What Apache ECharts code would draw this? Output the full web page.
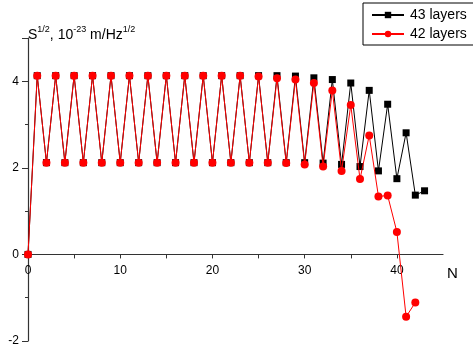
<!DOCTYPE html>
<html>
<head>
<meta charset="utf-8">
<script src="https://cdn.jsdelivr.net/npm/echarts@6/dist/echarts.min.js"></script>
<style>
  html, body { margin: 0; padding: 0; background: #fff; }
  #chart { width: 473px; height: 351px; }
</style>
</head>
<body>
<div id="chart"></div>
<script>
// S^1/2 per layer index N
const layers43 = [
  0, 4.13, 2.12, 4.13, 2.12, 4.13, 2.12, 4.13, 2.12, 4.13,
  2.12, 4.13, 2.12, 4.13, 2.12, 4.13, 2.12, 4.13, 2.12, 4.13,
  2.12, 4.13, 2.12, 4.13, 2.12, 4.13, 2.12, 4.13, 2.12, 4.12,
  2.12, 4.08, 2.11, 4.04, 2.08, 3.96, 2.03, 3.79, 1.93, 3.47,
  1.75, 2.81, 1.37, 1.47
]
const layers42 = [
  0, 4.13, 2.12, 4.13, 2.12, 4.13, 2.12, 4.13, 2.12, 4.13,
  2.12, 4.13, 2.12, 4.13, 2.12, 4.13, 2.12, 4.13, 2.12, 4.13,
  2.12, 4.13, 2.12, 4.13, 2.12, 4.11, 2.12, 4.07, 2.11, 4.04,
  2.08, 3.96, 2.03, 3.79, 1.93, 3.45, 1.74, 2.75, 1.34, 1.36,
  0.52, -1.44, -1.11
]
const seriesNames = ['43 layers', '42 layers']
const xLabels = [0, 10, 20, 30, 40]
const yLabels = [-2, 0, 2, 4]
const yMin = -2
const yMax = 5

const font = 'Liberation Sans, Arial, sans-serif'
const chartHeight = 351
const gridTop = 38
const gridBottom = 10
const chart = echarts.init(document.getElementById('chart'), null, { renderer: 'canvas' })

const toPairs = (values) => values.map((v, n) => [n, v])
// onZero doesn't kick in here, so lift the x axis up to y = 0 by hand
const plotHeight = chartHeight - gridTop - gridBottom
const zeroLift = -plotHeight * (0 - yMin) / (yMax - yMin)

chart.setOption({
  animation: false,
  backgroundColor: '#fff',
  textStyle: { fontFamily: font },
  grid: { left: 28, right: 30, top: gridTop, bottom: gridBottom },
  title: {
    left: 23,
    top: 20,
    text: '{a|S}{s|1/2}{a|, 10}{s|-23}{a| m/Hz}{s|1/2}',
    textStyle: {
      fontWeight: 'normal',
      rich: {
        a: { fontFamily: font, fontSize: 14, fontWeight: 'normal', color: '#000', verticalAlign: 'bottom', lineHeight: 17 },
        s: { fontFamily: font, fontSize: 9, fontWeight: 'normal', color: '#000', verticalAlign: 'top', lineHeight: 17 }
      }
    }
  },
  graphic: [
    {
      type: 'text',
      left: 447,
      top: 266,
      style: { text: 'N', font: '15px ' + font, fill: '#000' }
    }
  ],
  legend: {
    left: 363,
    top: 3,
    orient: 'vertical',
    data: seriesNames,
    borderColor: '#000',
    borderWidth: 1,
    borderRadius: 0,
    padding: [5, 12, 4, 8],
    itemGap: 5,
    itemWidth: 32,
    itemHeight: 8,
    textStyle: { fontFamily: font, fontSize: 14, color: '#000', padding: [0, 0, 0, 1] }
  },
  xAxis: {
    type: 'value',
    position: 'bottom',
    offset: zeroLift,
    min: 0,
    max: 45,
    interval: 5,
    axisLine: { onZero: false, lineStyle: { color: '#333', width: 1.2 } },
    axisTick: { show: true, length: 4, lineStyle: { color: '#333' } },
    axisLabel: {
      fontFamily: font,
      fontSize: 12,
      color: '#000',
      margin: 10,
      showMaxLabel: false,
      formatter: (v) => (xLabels.includes(v) ? String(v) : '')
    },
    splitLine: { show: false }
  },
  yAxis: [
    {
      type: 'value',
      position: 'left',
      min: yMin,
      max: yMax,
      interval: 1,
      axisLine: { show: true, onZero: false, lineStyle: { color: '#333', width: 1.2 } },
      axisTick: { show: true, length: 3, lineStyle: { color: '#333' } },
      axisLabel: { show: false },
      splitLine: { show: false }
    },
    {
      type: 'value',
      position: 'left',
      offset: 0,
      min: yMin,
      max: yMax,
      interval: 2,
      axisLine: { show: false, onZero: false },
      axisTick: { show: true, length: 6, lineStyle: { color: '#333' } },
      axisLabel: {
        fontFamily: font,
        fontSize: 12,
        color: '#000',
        margin: 9,
        formatter: (v) => (yLabels.includes(v) ? String(v) : '')
      },
      splitLine: { show: false }
    }
  ],
  series: [
    {
      name: seriesNames[0],
      type: 'line',
      data: toPairs(layers43),
      symbol: 'rect',
      symbolSize: 7,
      color: '#000',
      itemStyle: { color: '#000' },
      lineStyle: { color: '#000', width: 1 },
      z: 2
    },
    {
      name: seriesNames[1],
      type: 'line',
      data: toPairs(layers42),
      symbol: 'circle',
      symbolSize: 8,
      color: '#ff0000',
      itemStyle: { color: '#ff0000' },
      lineStyle: { color: '#ff0000', width: 1 },
      z: 3
    }
  ]
})
</script>
</body>
</html>
